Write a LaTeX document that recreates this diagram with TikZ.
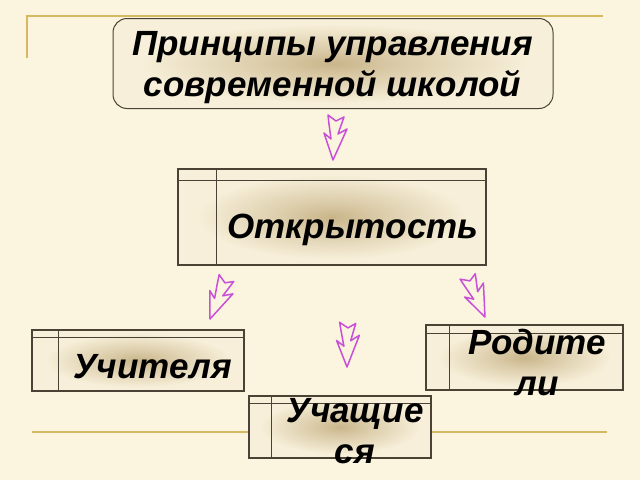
\documentclass[tikz,border=0pt]{standalone}
\usepackage{fontspec}
\setmainfont{Liberation Sans}
\usetikzlibrary{calc}
\definecolor{bgc}{HTML}{FBF4DE}
\definecolor{goldc}{HTML}{D6B860}
\definecolor{edgec}{HTML}{4A4234}
\definecolor{glowc}{HTML}{C9B58A}
\definecolor{boxc}{HTML}{F7EFD9}
\definecolor{arrc}{HTML}{C84FD8}
\pgfdeclareradialshading{boxglow}{\pgfpoint{0bp}{0bp}}{color(0bp)=(glowc); color(8bp)=(glowc!60!boxc); color(22bp)=(boxc); color(50bp)=(boxc)}
\tikzset{
  goldline/.style={draw=goldc, line width=2pt},
  edge/.style={draw=edgec, line width=1.3pt},
  titlebox/.style={shade, shading=boxglow, draw=edgec, line width=1pt, rounded corners=14pt, inner sep=0pt},
  tbox/.style={shade, shading=boxglow, edge, inner sep=0pt},
  lbl/.style={font=\fontsize{35}{41}\selectfont\bfseries\itshape, inner sep=0pt, text=black},
  arrowline/.style={draw=arrc, line width=1.5pt, line join=round},
  zzarrow/.pic={\draw[arrowline] (-5,-45) -- (3,-39) -- (11,-43) -- (5,-26) -- (14,-31) -- (0,0) -- (-9,-27) -- (-2,-21) -- (-4,-36) -- cycle;}
}
\newcommand{\innerlines}[3]{%
  \draw[edge] ($(#1.north west)+(0,#2)$) -- ($(#1.north east)+(0,#2)$);
  \draw[edge] ($(#1.north west)+(#3,0)$) -- ($(#1.south west)+(#3,0)$);}
\begin{document}
\begin{tikzpicture}[x=1pt,y=-1pt]
\fill[bgc] (0,0) rectangle (640,480);
\useasboundingbox (0,0) rectangle (640,480);
\draw[goldline] (27,58) -- (27,16) -- (603,16);
\draw[goldline] (32,432) -- (607,432);

\node[titlebox, minimum width=440pt, minimum height=90pt] (title) at (333,63.5) {};
\node[lbl, align=center] (titletext) at (332.5,68) {Принципы управления\\современной школой};

\node[tbox, minimum width=308pt, minimum height=96pt] (open) at (332,217) {};
\innerlines{open}{12}{39}
\node[lbl, anchor=base] (opentext) at (353,238) {Открытость};

\node[tbox, minimum width=212pt, minimum height=61pt] (teach) at (138,360.5) {};
\innerlines{teach}{8}{27}
\node[lbl, anchor=base] (teachtext) at (152.5,378) {Учителя};

\node[tbox, minimum width=197pt, minimum height=65pt] (par) at (524.5,357.5) {};
\innerlines{par}{9}{24}

\node[tbox, minimum width=182pt, minimum height=62pt] (stud) at (340,427) {};
\innerlines{stud}{8}{23}

\node[lbl, align=center] (partext) at (537,362) {Родите\\ли};
\node[lbl, align=center] (studtext) at (355,431) {Учащие\\ся};

\pic[rotate=0] at (333,160) {zzarrow};
\pic[rotate=-18] at (210,319) {zzarrow};
\pic[rotate=3] at (347,367) {zzarrow};
\pic[rotate=27] at (485,317) {zzarrow};
\end{tikzpicture}
\end{document}
